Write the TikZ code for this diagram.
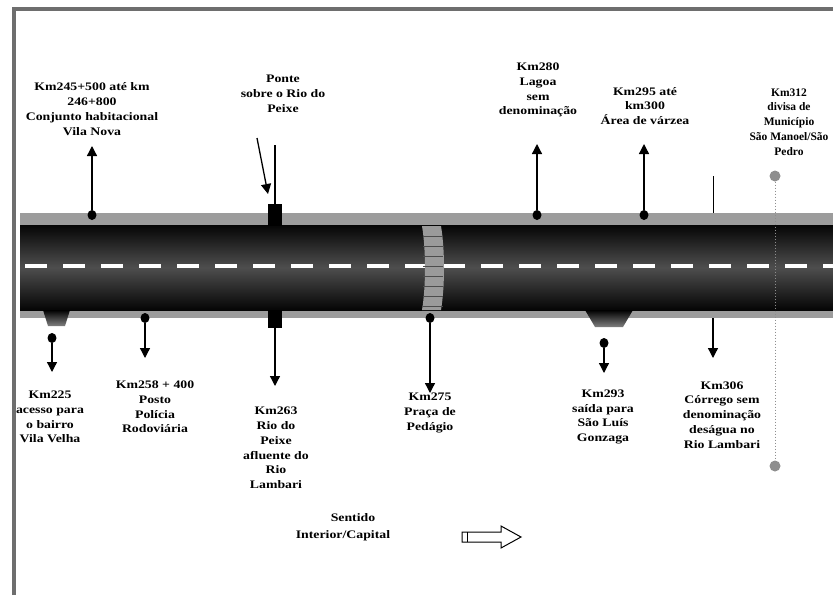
\documentclass[tikz,border=0pt]{standalone}
\usepackage{fontspec}
\setmainfont[FakeStretch=1.2]{Liberation Serif}
\newfontfamily\narrowserif{Liberation Serif}
\usetikzlibrary{arrows.meta,positioning,shapes.geometric}
\definecolor{frame}{HTML}{6E6E6E}
\definecolor{shoulder}{HTML}{9C9C9C}
\definecolor{asphalt}{HTML}{050505}
\definecolor{asphaltmid}{HTML}{4E4E4E}
\definecolor{marker}{HTML}{8E8E8E}
\definecolor{toll}{HTML}{9A9A9A}
\tikzset{
  lab/.style={align=center, text=black, font=\bfseries\fontsize{11.5}{14.8}\selectfont, inner sep=0pt},
  dot/.style={ellipse, fill=black, minimum width=9pt, minimum height=10pt, inner sep=0pt},
  gdot/.style={circle, fill=marker, minimum size=11pt, inner sep=0pt},
  pier/.style={rectangle, fill=black, minimum width=14pt, inner sep=0pt},
  arr/.style={draw=black, line width=1.3pt, -{Triangle[length=10pt,width=10pt]}},
  pole/.style={draw=black, line width=1.3pt},
  ramp/.style={top color=black, bottom color=gray},
}

\begin{document}
\begin{tikzpicture}[x=1pt,y=-1pt]
  \useasboundingbox (0,0) rectangle (833,595);

  % moldura
  \draw[frame, line width=4pt] (14,595) -- (14,9) -- (833,9);

  % rodovia
  \fill[shoulder] (20,213) rectangle (833,318);
  \shade[top color=asphalt, bottom color=asphalt, middle color=asphaltmid] (20,225) rectangle (833,310);
  \draw[white, line width=3.5pt, dash pattern=on 22pt off 16pt] (25,266) -- (833,266);

  % praca de pedagio
  \fill[toll] (422,226) .. controls (426,250) and (426,286) .. (422,310) -- (441,310) .. controls (445,286) and (445,250) .. (441,226) -- cycle;
  \foreach \y in {236,246,...,306}
    \draw[black!70, line width=0.8pt] (423,\y) -- (443,\y);

  % acessos
  \shade[ramp] (43,310) -- (70,310) -- (65,326) -- (48,326) -- cycle;
  \shade[ramp] (585,310) -- (633,310) -- (623,327) -- (595,327) -- cycle;

  % ponte
  \node[pier, minimum height=22pt] (pierN) at (275,215) {};
  \node[pier, minimum height=18pt] (pierS) at (275,319) {};

  % lado de cima
  \node[dot] (d245) at (92,215) {};
  \coordinate (a245) at (92,146);
  \draw[arr] (d245) -- (a245);
  \node[lab] (t245) at (92,109) {Km245+500 até km\\246+800\\Conjunto habitacional\\Vila Nova};

  \coordinate (ponteTop) at (275,145);
  \draw[pole] (pierN.north) -- (ponteTop);
  \coordinate (ponteA) at (257,138);
  \coordinate (ponteB) at (268,194);
  \draw[arr] (ponteA) -- (ponteB);
  \node[lab] (tponte) at (283,94) {Ponte\\sobre o Rio do\\Peixe};

  \node[dot] (d280) at (537,215) {};
  \coordinate (a280) at (537,144);
  \draw[arr] (d280) -- (a280);
  \node[lab] (t280) at (538,90) {Km280\\Lagoa\\sem\\denominação};

  \node[dot] (d295) at (644,215) {};
  \coordinate (a295) at (644,144);
  \draw[arr] (d295) -- (a295);
  \node[lab] (t295) at (645,106) {Km295 até\\km300\\Área de várzea};

  \coordinate (k306a) at (713,176);
  \coordinate (k306b) at (713,213);
  \draw[pole, line width=1pt] (k306a) -- (k306b);

  \node[gdot] (g312a) at (775,176) {};
  \node[gdot] (g312b) at (775,466) {};
  \draw[marker, line width=1pt, dotted] (g312a) -- (g312b);
  \node[lab, font=\narrowserif\bfseries\fontsize{11.5}{14.8}\selectfont] (t312) at (789,122) {Km312\\divisa de\\Município\\São Manoel/São\\Pedro};

  % lado de baixo
  \node[dot] (d225) at (52,338) {};
  \coordinate (a225) at (52,372);
  \draw[arr] (d225) -- (a225);
  \node[lab] (t225) at (50,417) {Km225\\acesso para\\o bairro\\Vila Velha};

  \node[dot] (d258) at (145,318) {};
  \coordinate (a258) at (145,358);
  \draw[arr] (d258) -- (a258);
  \node[lab] (t258) at (155,407) {Km258 + 400\\Posto\\Polícia\\Rodoviária};

  \coordinate (a263) at (275,386);
  \draw[arr] (pierS.south) -- (a263);
  \node[lab] (t263) at (276,448) {Km263\\Rio do\\Peixe\\afluente do\\Rio\\Lambari};

  \node[dot] (d275) at (430,318) {};
  \coordinate (a275) at (430,393);
  \draw[arr] (d275) -- (a275);
  \node[lab] (t275) at (430,413) {Km275\\Praça de\\Pedágio};

  \node[dot] (d293) at (604,343) {};
  \coordinate (a293) at (604,373);
  \draw[arr] (d293) -- (a293);
  \node[lab] (t293) at (603,417) {Km293\\saída para\\São Luís\\Gonzaga};

  \coordinate (k306c) at (713,318);
  \coordinate (a306) at (713,358);
  \draw[arr] (k306c) -- (a306);
  \node[lab] (t306) at (722,415) {Km306\\Córrego sem\\denominação\\deságua no\\Rio Lambari};

  % sentido
  \node[lab] (tsent) at (353,518) {Sentido};
  \node[lab] (tinter) at (343,536) {Interior/Capital};
  \draw[black, line width=1pt, fill=white] (462,532) -- (501,532) -- (501,526) -- (521,537) -- (501,548) -- (501,542) -- (462,542) -- cycle;
  \draw[black, line width=1pt] (467,532) -- (467,542);
\end{tikzpicture}
\end{document}
